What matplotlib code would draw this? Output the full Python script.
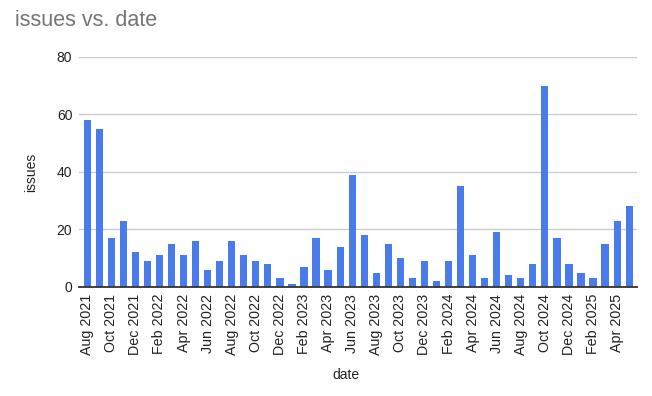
import numpy as np
import pandas as pd
import matplotlib
matplotlib.use("Agg")
import matplotlib.pyplot as plt

plt.rcParams['font.family'] = ['Liberation Sans', 'DejaVu Sans']

months = pd.date_range('2021-08-01', periods=46, freq='MS').strftime('%b %Y').tolist()
issues = [58, 55, 17, 23, 12, 9, 11, 15, 11, 16, 6, 9, 16, 11, 9, 8,
          3, 1, 7, 17, 6, 14, 39, 18, 5, 15, 10, 3, 9, 2, 9, 35,
          11, 3, 19, 4, 3, 8, 70, 17, 8, 5, 3, 15, 23, 28]
yticks = [0, 20, 40, 60, 80]

fig = plt.figure(figsize=(6.52, 3.96), dpi=100)
ax = fig.add_axes([0.1216, 0.2753, 0.855, 0.581])

x = np.arange(len(issues))
ax.bar(x, issues, width=0.6, color='#4a7bea', zorder=3)

ax.set_xlim(-0.66, 45.63)
ax.set_ylim(0, 80)
ax.set_yticks(yticks)
ax.set_yticklabels([str(v) for v in yticks], fontsize=10, color='#222222')
ax.grid(axis='y', color='#cccccc', linewidth=1, zorder=0)

ax.set_xticks(x[::2])
ax.set_xticklabels(months[::2], rotation=90, fontsize=10.3, color='#222222')
ax.tick_params(length=0, pad=5)

for s in ['top', 'right', 'left']:
    ax.spines[s].set_visible(False)
ax.spines['bottom'].set_color('#333333')
ax.spines['bottom'].set_linewidth(1.3)
ax.spines['bottom'].set_zorder(4)

fig.text(0.023, 0.948, 'issues vs. date', fontsize=15.5, color='#757575', va='center')
fig.text(0.047, 0.565, 'issues', rotation=90, fontsize=10, color='#222222', va='center', ha='center')
fig.text(0.53, 0.052, 'date', fontsize=10, color='#222222', va='center', ha='center')

fig.savefig('out.png', dpi=100)
